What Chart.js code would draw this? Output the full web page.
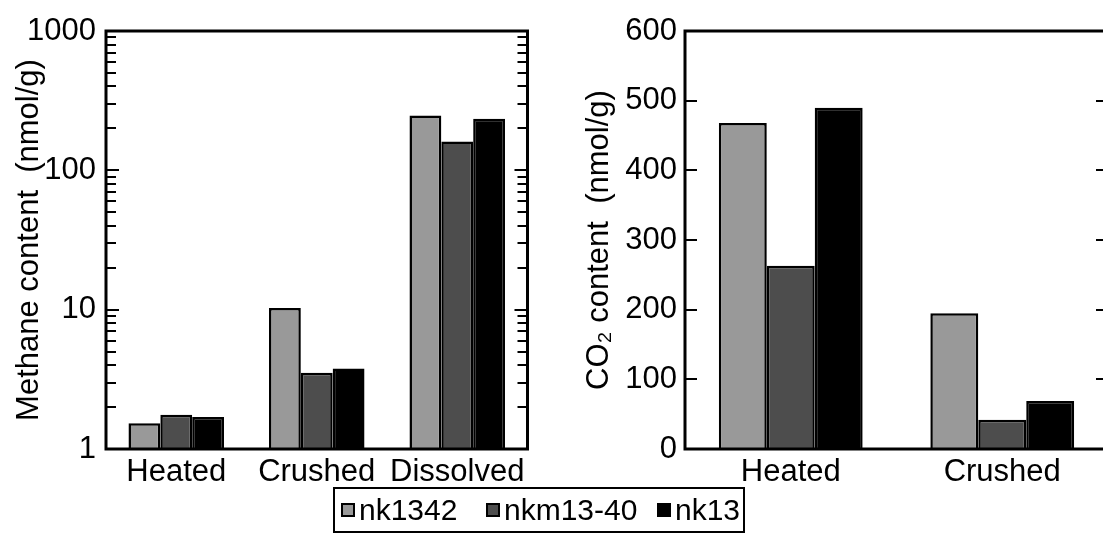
<!DOCTYPE html>
<html>
<head>
<meta charset="utf-8">
<script src="https://cdn.jsdelivr.net/npm/chart.js@4.4.0/dist/chart.umd.min.js"></script>
<style>
  body { margin: 0; width: 1103px; height: 554px; overflow: hidden; background: #fff; position: relative;
         font-family: "Liberation Sans", Arial, sans-serif; }
  #leftWrap { position: absolute; left: 0; top: 0; }
  #rightWrap { position: absolute; left: 545px; top: 0; }
  #legend { position: absolute; left: 333px; top: 487px; width: 408px; height: 42px; border: 2px solid #000;
            font-size: 30px; color: #000; box-sizing: content-box; }
  .item { position: absolute; top: 0; height: 42px; display: flex; align-items: center; white-space: nowrap; }
  .sw { width: 10px; height: 10px; border: 2px solid #000; margin-right: 4px; flex: none; }
</style>
</head>
<body>
<div id="leftWrap"><canvas id="methane" width="545" height="490"></canvas></div>
<div id="rightWrap"><canvas id="co2" width="580" height="490"></canvas></div>
<div id="legend"></div>
<script>
// categories
let methaneCats = ['Heated', 'Crushed', 'Dissolved'];
let co2Cats = ['Heated', 'Crushed'];

// samples (series)
let samples = ['nk1342', 'nkm13-40', 'nk13'];
let colorHex = ['#999999', '#4d4d4d', '#000000'];

// methane content, nmol/g (log axis)
let methane_nk1342 = [1.53, 10.3, 247];
let methane_nkm1340 = [1.76, 3.52, 161];
let methane_nk13 = [1.70, 3.78, 235];

// CO2 content, nmol/g
let co2_nk1342 = [468, 195];
let co2_nkm1340 = [263, 42];
let co2_nk13 = [490, 69];

// labelled ticks on the log axis
let methaneTicks = [1, 10, 100, 1000];

const FONT = { family: '"Liberation Sans", Arial, sans-serif', size: 31 };
// x offset of each legend entry inside the box
const legendLeft = [6, 151, 322];

// box round the plot and inward ticks on both sides
const framePlugin = {
  id: 'frame',
  afterDatasetsDraw(chart, args, opts) {
    const ctx = chart.ctx;
    const a = chart.chartArea;
    const y = chart.scales.y;
    ctx.save();
    ctx.strokeStyle = '#000';
    ctx.lineWidth = 2;
    y.ticks.forEach(t => {
      const py = Math.round(y.getPixelForValue(t.value));
      const major = opts.log ? Math.abs(Math.log10(t.value) % 1) < 1e-9 : true;
      const len = major ? opts.major : opts.minor;
      ctx.beginPath();
      ctx.moveTo(a.left, py); ctx.lineTo(a.left + len, py);
      ctx.moveTo(a.right, py); ctx.lineTo(a.right - len, py);
      ctx.stroke();
    });
    ctx.lineWidth = 3;
    ctx.strokeRect(a.left, a.top, a.right - a.left, a.bottom - a.top);
    ctx.restore();
  }
};

function makeSets(values) {
  return samples.map((s, i) => ({
    label: s,
    data: values[i],
    backgroundColor: colorHex[i],
    borderColor: '#000',
    borderWidth: 2.5,
    categoryPercentage: 0.68,
    barPercentage: 1
  }));
}

function xAxis() {
  return {
    grid: { display: false, drawTicks: false },
    border: { display: false },
    ticks: { color: '#000', font: FONT, padding: 5 },
    afterFit: s => { s.height = 40; }
  };
}

let methaneChart = new Chart(document.getElementById('methane').getContext('2d'), {
  type: 'bar',
  data: {
    labels: methaneCats,
    datasets: makeSets([methane_nk1342, methane_nkm1340, methane_nk13])
  },
  options: {
    responsive: false,
    animation: false,
    layout: { padding: { top: 31, right: 17.5, left: 0, bottom: 1 } },
    plugins: { legend: { display: false }, tooltip: { enabled: false },
               frame: { log: true, major: 13, minor: 10 } },
    scales: {
      x: xAxis(),
      y: {
        type: 'logarithmic',
        min: 1,
        max: 1000,
        grid: { display: false, drawTicks: false },
        border: { display: false },
        afterBuildTicks: s => {
          const t = [];
          for (let e = 0; e < 3; e++) {
            for (let d = 1; d < 10; d++) t.push({ value: d * Math.pow(10, e) });
          }
          t.push({ value: 1000 });
          s.ticks = t;
        },
        ticks: {
          autoSkip: false,
          color: '#000',
          font: FONT,
          padding: 10,
          callback: v => methaneTicks.includes(v) ? String(v) : ''
        },
        title: { display: true, text: 'Methane content  (nmol/g)', color: '#000', font: FONT,
                 padding: { top: 11, bottom: 0 } },
        afterFit: s => { s.width = 106; }
      }
    }
  },
  plugins: [framePlugin]
});

let co2Chart = new Chart(document.getElementById('co2').getContext('2d'), {
  type: 'bar',
  data: {
    labels: co2Cats,
    datasets: makeSets([co2_nk1342, co2_nkm1340, co2_nk13])
  },
  options: {
    responsive: false,
    animation: false,
    layout: { padding: { top: 31, right: 17, left: 0, bottom: 1 } },
    plugins: { legend: { display: false }, tooltip: { enabled: false },
               frame: { log: false, major: 12, minor: 12 } },
    scales: {
      x: xAxis(),
      y: {
        min: 0,
        max: 600,
        grid: { display: false, drawTicks: false },
        border: { display: false },
        ticks: { stepSize: 100, color: '#000', font: FONT, padding: 8 },
        title: { display: true, text: 'CO\u2082 content  (nmol/g)', color: '#000', font: FONT,
                 padding: { top: 36, bottom: 0 } },
        afterFit: s => { s.width = 140; }
      }
    }
  },
  plugins: [framePlugin]
});

// legend box built from the series
let legend = document.getElementById('legend');
samples.forEach((s, i) => {
  let item = document.createElement('div');
  item.className = 'item';
  item.style.left = legendLeft[i] + 'px';
  let sw = document.createElement('div');
  sw.className = 'sw';
  sw.style.background = colorHex[i];
  let txt = document.createElement('span');
  txt.textContent = s;
  item.appendChild(sw);
  item.appendChild(txt);
  legend.appendChild(item);
});
</script>
</body>
</html>
